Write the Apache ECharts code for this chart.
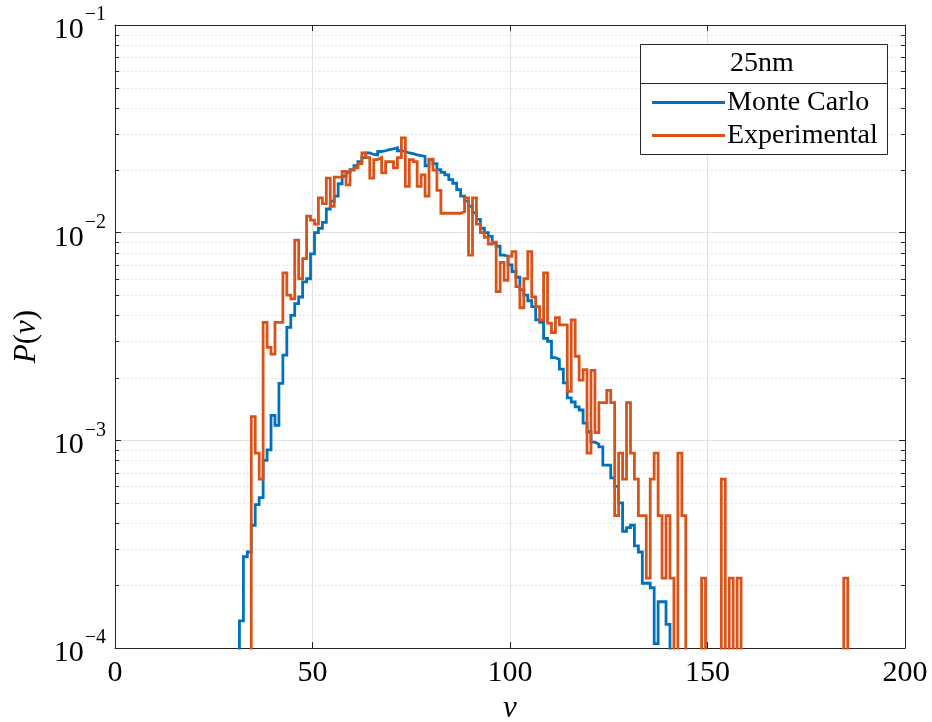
<!DOCTYPE html>
<html>
<head>
<meta charset="utf-8">
<script src="https://cdn.jsdelivr.net/npm/echarts@6/dist/echarts.min.js"></script>
<style>
  html, body { margin: 0; padding: 0; background: #fff; }
  #chart { width: 932px; height: 722px; }
</style>
</head>
<body>
<div id="chart"></div>
<script>
// Histogram bins: integer nu, width 1 (edges at nu +/- 0.5)
const mcFirstNu = 32;
const mcP = [
  1.35e-4, 2.75e-4, 2.9e-4, 3.9e-4, 4.9e-4, 5.3e-4, 8.0e-4, 9.0e-4, 1.32e-3, 1.18e-3,   // 32-41
  1.88e-3, 2.57e-3, 3.5e-3, 4.0e-3, 4.55e-3, 4.9e-3, 5.8e-3, 6.0e-3, 7.9e-3, 1.0e-2,     // 42-51
  1.05e-2, 1.12e-2, 1.3e-2, 1.42e-2, 1.5e-2, 1.72e-2, 1.87e-2, 1.95e-2, 2.01e-2, 2.1e-2, // 52-61
  2.2e-2, 2.3e-2, 2.42e-2, 2.38e-2, 2.37e-2, 2.46e-2, 2.48e-2, 2.51e-2, 2.53e-2, 2.56e-2, // 62-71
  2.48e-2, 2.46e-2, 2.42e-2, 2.4e-2, 2.37e-2, 2.35e-2, 2.33e-2, 2.1e-2, 2.25e-2, 2.15e-2, // 72-81
  2.01e-2, 1.95e-2, 1.9e-2, 1.8e-2, 1.73e-2, 1.61e-2, 1.5e-2, 1.42e-2, 1.34e-2, 1.25e-2, // 82-91
  1.16e-2, 1.05e-2, 1.0e-2, 9.6e-3, 8.9e-3, 8.6e-3, 7.8e-3, 7.7e-3, 7.0e-3, 6.5e-3,      // 92-101
  6.1e-3, 5.3e-3, 5.0e-3, 4.7e-3, 4.4e-3, 3.8e-3, 3.7e-3, 3.1e-3, 3.0e-3, 2.5e-3,        // 102-111
  2.45e-3, 2.2e-3, 1.89e-3, 1.6e-3, 1.53e-3, 1.45e-3, 1.4e-3, 1.21e-3, 1.1e-3, 9.8e-4,   // 112-121
  9.6e-4, 9.3e-4, 7.6e-4, 7.6e-4, 6.6e-4, 6.0e-4, 5.0e-4, 3.65e-4, 3.8e-4, 3.9e-4,       // 122-131
  3.1e-4, 2.9e-4, 2.05e-4, 2.05e-4, 1.95e-4, 1.05e-4, 1.67e-4, 1.67e-4, 1.3e-4          // 132-140
];

const expFirstNu = 35;
const expP = [
  1.30e-3, 8.68e-4, 6.51e-4, 3.7e-3, 2.8e-3, 2.6e-3, 3.7e-3, 3.7e-3, 6.4e-3, 5.0e-3,     // 35-44
  4.8e-3, 9.2e-3, 6.0e-3, 7.5e-3, 1.2e-2, 1.15e-2, 1.1e-2, 1.47e-2, 1.38e-2, 1.83e-2,    // 45-54
  1.34e-2, 1.85e-2, 1.85e-2, 1.97e-2, 1.7e-2, 2.0e-2, 2.05e-2, 2.15e-2, 2.42e-2, 2.3e-2, // 55-64
  1.83e-2, 2.25e-2, 2.3e-2, 1.94e-2, 2.2e-2, 2.2e-2, 2.05e-2, 2.3e-2, 2.86e-2, 1.67e-2,  // 65-74
  2.25e-2, 2.2e-2, 1.67e-2, 1.9e-2, 1.5e-2, 2.26e-2, 2.0e-2, 1.6e-2, 1.24e-2, 1.24e-2,   // 75-84
  1.24e-2, 1.24e-2, 1.24e-2, 1.26e-2, 1.47e-2, 7.8e-3, 1.47e-2, 1.1e-2, 1.0e-2, 9.5e-3,  // 85-94
  8.8e-3, 9.0e-3, 5.2e-3, 7.2e-3, 5.9e-3, 7.7e-3, 8.1e-3, 5.5e-3, 4.35e-3, 6.0e-3,       // 95-104
  8.1e-3, 4.9e-3, 4.4e-3, 3.8e-3, 6.4e-3, 3.67e-3, 3.3e-3, 3.9e-3, 3.6e-3, 3.6e-3,       // 105-114
  1.72e-3, 3.8e-3, 2.54e-3, 1.95e-3, 2.19e-3, 8.68e-4, 2.17e-3, 1.09e-3, 1.52e-3, 1.52e-3, // 115-124
  1.74e-3, 1.52e-3, 4.34e-4, 8.68e-4, 6.51e-4, 1.52e-3, 8.68e-4, 6.51e-4, 4.34e-4, 4.34e-4, // 125-134
  2.17e-4, 6.51e-4, 8.68e-4, 4.34e-4, 2.17e-4, 4.34e-4, 2.17e-4, 0, 8.68e-4, 4.34e-4,   // 135-144
  0, 0, 0, 0, 2.17e-4, 0, 0, 0, 0, 6.51e-4,                                              // 145-154
  0, 2.17e-4, 0, 2.17e-4, 0, 0, 0, 0, 0, 0,                                              // 155-164
  0, 0, 0, 0, 0, 0, 0, 0, 0, 0,                                                          // 165-174
  0, 0, 0, 0, 0, 0, 0, 0, 0, 0,                                                          // 175-184
  2.17e-4                                                                                // 185
];

const xTicks = [0, 50, 100, 150, 200];
const yDecades = [1e-4, 1e-3, 1e-2, 1e-1];
const legendTitle = '25nm';
const seriesNames = ['Monte Carlo', 'Experimental'];

// Empty bins sit below the visible range so their edges drop to the axis floor
const FLOOR = 1e-7;

function stairs(firstNu, values) {
  const pts = [];
  pts.push([firstNu - 0.5, FLOOR]);
  values.forEach((v, i) => pts.push([firstNu + i - 0.5, v > 0 ? v : FLOOR]));
  const last = values[values.length - 1];
  const right = firstNu + values.length - 0.5;
  pts.push([right, last > 0 ? last : FLOOR]);
  pts.push([right, FLOOR]);
  return pts;
}

// minor (2..9 x decade) gridline values
const minorVals = [];
for (let d = 0; d < yDecades.length - 1; d++) {
  for (let k = 2; k <= 9; k++) minorVals.push(k * yDecades[d]);
}

const SERIF = '"Liberation Serif", "DejaVu Serif", serif';
const AXIS_COLOR = '#262626';
const BLUE = '#0072BD';
const ORANGE = '#D95319';

const chart = echarts.init(document.getElementById('chart'), null, { renderer: 'canvas' });

function expLabel(v) {
  const e = Math.round(Math.log10(v));
  return '{b|10}{s|' + String(e).replace('-', '\u2212') + '}';
}

const option = {
  animation: false,
  backgroundColor: '#fff',
  grid: { left: 115, right: 27, top: 25, bottom: 74, containLabel: false, outerBoundsMode: 'none' },
  xAxis: [
    {
      type: 'value', min: 0, max: 200, interval: 50,
      axisLine: { show: true, onZero: false, lineStyle: { color: AXIS_COLOR, width: 1 } },
      axisTick: { show: true, inside: true, length: 6, lineStyle: { color: AXIS_COLOR } },
      axisLabel: { show: true, margin: 10, color: '#000', fontFamily: SERIF, fontSize: 30,
        formatter: v => xTicks.indexOf(v) >= 0 ? String(v) : '' },
      splitLine: { show: true, lineStyle: { color: '#e3e3e3', width: 1 } },
      name: '\u03bd', nameLocation: 'middle', nameGap: 44,
      nameTextStyle: { fontFamily: SERIF, fontStyle: 'italic', fontSize: 31, color: '#000' }
    },
    {
      type: 'value', position: 'top', min: 0, max: 200, interval: 50,
      axisLine: { show: true, onZero: false, lineStyle: { color: AXIS_COLOR, width: 1 } },
      axisTick: { show: true, inside: true, length: 6, lineStyle: { color: AXIS_COLOR } },
      axisLabel: { show: false }, splitLine: { show: false }
    }
  ],
  yAxis: [
    {
      type: 'log', logBase: 10, min: 1e-4, max: 1e-1,
      axisLine: { show: true, onZero: false, lineStyle: { color: AXIS_COLOR, width: 1 } },
      axisTick: { show: true, inside: true, length: 6, lineStyle: { color: AXIS_COLOR } },
      axisLabel: {
        show: true, margin: 9, formatter: expLabel,
        rich: {
          b: { fontFamily: SERIF, fontSize: 30, color: '#000', padding: [10, 0, 0, 0] },
          s: { fontFamily: SERIF, fontSize: 20, color: '#000', verticalAlign: 'top', padding: [0, 0, 14, 1] }
        }
      },
      splitLine: { show: true, lineStyle: { color: '#e3e3e3', width: 1 } },
      name: '{i|P}{n|(}{i|\u03bd}{n|)}', nameLocation: 'middle', nameGap: 72, nameRotate: 90,
      nameTextStyle: {
        rich: {
          i: { fontFamily: SERIF, fontStyle: 'italic', fontSize: 31, color: '#000' },
          n: { fontFamily: SERIF, fontSize: 31, color: '#000' }
        }
      }
    },
    {
      type: 'log', logBase: 10, min: 1e-4, max: 1e-1, position: 'right',
      axisLine: { show: true, onZero: false, lineStyle: { color: AXIS_COLOR, width: 1 } },
      axisTick: { show: true, inside: true, length: 6, lineStyle: { color: AXIS_COLOR } },
      axisLabel: { show: false }, splitLine: { show: false }
    }
  ],
  legend: {
    show: true,
    data: seriesNames,
    orient: 'vertical',
    left: 647, top: 83,
    itemWidth: 73, itemHeight: 3, itemGap: 4,
    icon: 'rect',
    textStyle: { fontFamily: SERIF, fontSize: 28, color: '#000', padding: [0, 0, 0, -3], lineHeight: 29 },
    z: 6,
    selectedMode: false
  },
  graphic: [
    { type: 'rect', z: 5, shape: { x: 640.5, y: 44.5, width: 247, height: 110 },
      style: { fill: '#fff', stroke: AXIS_COLOR, lineWidth: 1 } },
    { type: 'line', z: 5, shape: { x1: 640.5, y1: 83.5, x2: 887.5, y2: 83.5 },
      style: { stroke: AXIS_COLOR, lineWidth: 1 } },
    { type: 'text', z: 6, x: 762, y: 64,
      style: { text: legendTitle, fontFamily: SERIF, fontSize: 28, fill: '#000',
        textAlign: 'center', textVerticalAlign: 'middle' } }
  ],
  series: [
    {
      // dotted minor gridlines and minor ticks at 2..9 x each decade
      type: 'custom', silent: true, z: 1,
      data: minorVals.map(v => [0, v]),
      encode: { x: 0, y: 1 },
      renderItem: (params, api) => {
        const cs = params.coordSys;
        const y = Math.round(api.coord([0, api.value(1)])[1]) + 0.5;
        return {
          type: 'group',
          children: [
            { type: 'line', shape: { x1: cs.x, y1: y, x2: cs.x + cs.width, y2: y },
              style: { stroke: '#d9d9d9', lineWidth: 1, lineDash: [1.5, 2.5] } },
            { type: 'line', shape: { x1: cs.x, y1: y, x2: cs.x + 4, y2: y },
              style: { stroke: AXIS_COLOR, lineWidth: 1 } },
            { type: 'line', shape: { x1: cs.x + cs.width - 4, y1: y, x2: cs.x + cs.width, y2: y },
              style: { stroke: AXIS_COLOR, lineWidth: 1 } }
          ]
        };
      }
    },
    {
      name: seriesNames[0], type: 'line', step: 'end',
      data: stairs(mcFirstNu, mcP),
      showSymbol: false, symbol: 'none', clip: true, z: 3,
      itemStyle: { color: BLUE },
      lineStyle: { color: BLUE, width: 2.8, join: 'miter' }
    },
    {
      name: seriesNames[1], type: 'line', step: 'end',
      data: stairs(expFirstNu, expP),
      showSymbol: false, symbol: 'none', clip: true, z: 4,
      itemStyle: { color: ORANGE },
      lineStyle: { color: ORANGE, width: 2.8, join: 'miter' }
    }
  ]
};

chart.setOption(option);
</script>
</body>
</html>
